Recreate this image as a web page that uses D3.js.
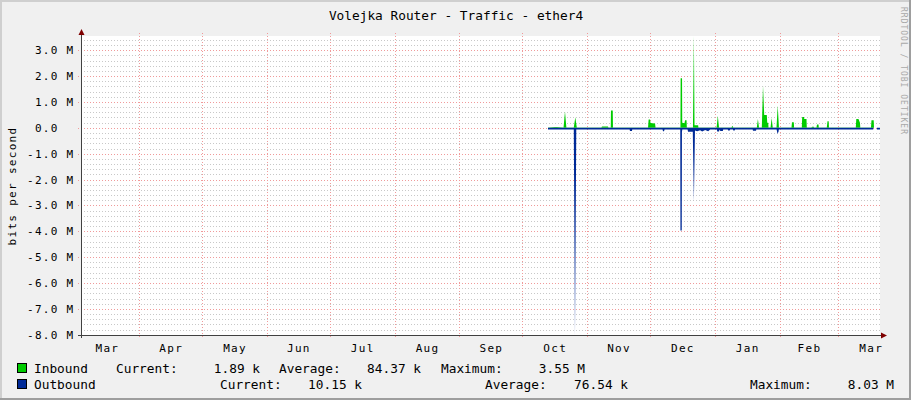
<!DOCTYPE html>
<html>
<head>
<meta charset="utf-8">
<script src="https://cdn.jsdelivr.net/npm/d3@7"></script>
<style>
body { margin:0; background:#f0f0f0; }
svg text { font-family:"DejaVu Sans Mono", monospace; fill:#000; }
</style>
</head>
<body>
<div id="chart"></div>
<script>
// ---- data ----
var title = "Volejka Router - Traffic - ether4";
var yTitle = "bits per second";
var yTicks = [-8e6, -7e6, -6e6, -5e6, -4e6, -3e6, -2e6, -1e6, 0, 1e6, 2e6, 3e6];
var timeDomain = ["2021-03-04 03:20", "2022-03-20 22:20"];
var valueDomain = [-8.01e6, 3.55e6];

var inbound = [
	["2021-10-13 07:00", 10e3], ["2021-10-16 15:00", 30e3], ["2021-10-17 14:00", 30e3],
	["2021-10-20 17:30", 10e3], ["2021-10-21 09:40", 630e3], ["2021-10-22 01:40", 10e3],
	["2021-10-25 14:40", 10e3], ["2021-10-26 08:00", 410e3], ["2021-10-27 01:00", 10e3],
	["2021-11-07 20:00", 10e3], ["2021-11-08 02:00", 50e3], ["2021-11-10 22:30", 50e3], ["2021-11-11 04:00", 10e3],
	["2021-11-12 06:40", 10e3], ["2021-11-12 09:00", 670e3], ["2021-11-13 05:30", 670e3], ["2021-11-13 08:00", 10e3],
	["2021-11-30 02:10", 10e3], ["2021-11-30 09:00", 320e3], ["2021-12-01 01:10", 320e3], ["2021-12-01 07:00", 190e3],
	["2021-12-03 10:30", 170e3], ["2021-12-03 16:20", 10e3],
	["2021-12-15 13:40", 10e3], ["2021-12-15 16:00", 1.92e6], ["2021-12-16 08:10", 1.92e6], ["2021-12-16 10:20", 200e3],
	["2021-12-17 12:40", 180e3], ["2021-12-17 18:30", 290e3], ["2021-12-18 11:40", 290e3], ["2021-12-18 15:10", 10e3],
	["2021-12-21 13:10", 10e3], ["2021-12-21 23:50", 3.55e6], ["2021-12-22 07:30", 100e3],
	["2021-12-24 00:40", 100e3], ["2021-12-24 04:00", 10e3],
	["2022-01-01 20:40", 10e3], ["2022-01-02 10:20", 470e3], ["2022-01-03 00:00", 10e3],
	["2022-01-08 23:30", 10e3], ["2022-01-09 08:40", 80e3], ["2022-01-09 20:00", 10e3],
	["2022-01-21 01:40", 10e3], ["2022-01-21 14:10", 340e3], ["2022-01-22 02:50", 10e3],
	["2022-01-23 11:00", 10e3], ["2022-01-24 00:40", 1.63e6], ["2022-01-24 14:30", 500e3],
	["2022-01-25 20:20", 500e3], ["2022-01-26 01:00", 200e3], ["2022-01-26 12:30", 200e3], ["2022-01-26 15:50", 10e3],
	["2022-01-27 15:10", 10e3], ["2022-01-28 03:50", 380e3], ["2022-01-28 16:20", 10e3],
	["2022-01-30 11:30", 10e3], ["2022-01-31 01:30", 860e3], ["2022-01-31 15:10", 10e3],
	["2022-02-06 15:20", 10e3], ["2022-02-06 21:00", 220e3], ["2022-02-07 17:40", 220e3], ["2022-02-07 21:10", 10e3],
	["2022-02-11 13:30", 10e3], ["2022-02-11 18:00", 420e3], ["2022-02-12 14:40", 420e3], ["2022-02-12 18:00", 340e3],
	["2022-02-13 19:20", 340e3], ["2022-02-13 22:50", 10e3],
	["2022-02-16 04:40", 10e3], ["2022-02-16 10:20", 40e3], ["2022-02-17 07:10", 40e3], ["2022-02-17 10:40", 10e3],
	["2022-02-18 14:00", 10e3], ["2022-02-18 19:40", 130e3], ["2022-02-19 13:00", 130e3], ["2022-02-19 16:20", 10e3],
	["2022-02-23 12:10", 10e3], ["2022-02-23 20:10", 250e3], ["2022-02-24 09:50", 250e3], ["2022-02-24 13:10", 10e3],
	["2022-03-09 08:40", 10e3], ["2022-03-09 14:30", 340e3], ["2022-03-10 15:40", 340e3], ["2022-03-11 08:50", 200e3],
	["2022-03-11 12:20", 10e3],
	["2022-03-16 15:00", 10e3], ["2022-03-16 20:40", 290e3], ["2022-03-17 22:00", 290e3], ["2022-03-18 01:30", 10e3],
	["2022-03-18 02:00", NaN],
	["2022-03-19 10:30", 1.89e3], ["2022-03-20 22:00", 1.89e3]
];

var outbound = [
	["2021-10-13 07:00", -65e3],
	["2021-10-25 14:40", -65e3], ["2021-10-26 04:20", -8.03e6], ["2021-10-26 19:10", -65e3],
	["2021-11-21 07:30", -65e3], ["2021-11-21 10:50", -120e3], ["2021-11-22 09:50", -120e3], ["2021-11-22 13:00", -65e3],
	["2021-12-07 00:30", -65e3], ["2021-12-07 06:10", -130e3], ["2021-12-07 17:40", -130e3], ["2021-12-07 23:30", -65e3],
	["2021-12-15 11:30", -65e3], ["2021-12-15 13:40", -3.97e6], ["2021-12-16 04:40", -3.97e6], ["2021-12-16 07:00", -150e3],
	["2021-12-16 11:30", -65e3], ["2021-12-18 23:10", -65e3], ["2021-12-19 05:00", -150e3], ["2021-12-21 05:00", -150e3],
	["2021-12-21 11:20", -150e3], ["2021-12-21 23:50", -2.85e6], ["2021-12-22 12:30", -100e3],
	["2021-12-23 13:30", -130e3], ["2021-12-24 23:50", -90e3], ["2021-12-25 22:50", -140e3],
	["2021-12-27 09:10", -80e3], ["2021-12-28 19:40", -130e3], ["2021-12-29 18:30", -65e3],
	["2022-01-01 23:00", -65e3], ["2022-01-02 03:40", -140e3], ["2022-01-03 00:10", -140e3], ["2022-01-03 06:00", -65e3],
	["2022-01-03 15:10", -120e3], ["2022-01-04 19:40", -120e3], ["2022-01-05 00:10", -65e3],
	["2022-01-07 05:00", -65e3], ["2022-01-07 09:00", -100e3], ["2022-01-08 03:00", -100e3], ["2022-01-08 07:00", -65e3],
	["2022-01-09 16:00", -65e3], ["2022-01-09 20:00", -100e3], ["2022-01-10 12:00", -100e3], ["2022-01-10 16:00", -65e3],
	["2022-01-19 02:00", -65e3], ["2022-01-19 06:00", -110e3], ["2022-01-20 16:30", -110e3], ["2022-01-20 20:00", -65e3],
	["2022-01-30 12:40", -65e3], ["2022-01-30 23:00", -230e3], ["2022-01-31 10:30", -150e3], ["2022-01-31 14:00", -65e3],
	["2022-03-17 17:20", -65e3],
	["2022-03-18 02:00", NaN],
	["2022-03-19 10:30", -65e3], ["2022-03-20 22:00", -65e3]
];

var legendRows = [
	{ name: "Inbound", color: "#00cc00", current: "1.89 k", average: "84.37 k", maximum: "3.55 M" },
	{ name: "Outbound", color: "#002a97", current: "10.15 k", average: "76.54 k", maximum: "8.03 M" }
];

// ---- layout ----
var W = 911, H = 400;
var pLeft = 81, pRight = 880, pTop = 36, pBottom = 335;
var parse = d3.timeParse("%Y-%m-%d %H:%M");

var x = d3.scaleTime().domain(timeDomain.map(parse)).range([pLeft, pRight]);
var y = d3.scaleLinear().domain(valueDomain).range([pBottom, pTop]);

var svg = d3.select("#chart").append("svg").attr("width", W).attr("height", H);

// frame
svg.append("rect").attr("width", W).attr("height", H).attr("fill", "#f0f0f0");
svg.append("path").attr("d", "M0,0H" + W + "V2H2V" + H + "H0Z").attr("fill", "#cfcfcf");
svg.append("path").attr("d", "M" + W + "," + H + "H0V" + (H - 2) + "H" + (W - 2) + "V0H" + W + "Z").attr("fill", "#9e9e9e");

svg.append("rect").attr("x", pLeft).attr("y", pTop).attr("width", pRight - pLeft).attr("height", pBottom - pTop).attr("fill", "#fff");

// grid
var grid = svg.append("g").attr("shape-rendering", "crispEdges");
var minor = d3.range(-8e6, valueDomain[1], 2e5).filter(function(v){ return Math.round(v / 2e5) % 5 != 0; });
grid.selectAll("line.minor").data(minor).enter().append("line")
	.attr("x1", pLeft).attr("x2", pRight)
	.attr("y1", function(d){ return Math.round(y(d)) + 0.5; })
	.attr("y2", function(d){ return Math.round(y(d)) + 0.5; })
	.attr("stroke", "#c8c8c8").attr("stroke-dasharray", "1,2");

grid.selectAll("line.major").data(yTicks).enter().append("line")
	.attr("x1", pLeft - 3).attr("x2", pRight)
	.attr("y1", function(d){ return Math.round(y(d)) + 0.5; })
	.attr("y2", function(d){ return Math.round(y(d)) + 0.5; })
	.attr("stroke", "#f09a9a").attr("stroke-dasharray", "1,2");

var months = d3.timeMonth.range(d3.timeMonth.ceil(x.domain()[0]), x.domain()[1]);
grid.selectAll("line.month").data(months).enter().append("line")
	.attr("y1", pTop - 3).attr("y2", pBottom + 3)
	.attr("x1", function(d){ return Math.round(x(d)) + 0.5; })
	.attr("x2", function(d){ return Math.round(x(d)) + 0.5; })
	.attr("stroke", "#f09a9a").attr("stroke-dasharray", "1,2");

// series
function rows(arr){ return arr.map(function(d){ return { t: parse(d[0]), v: d[1] }; }); }

var area = d3.area()
	.defined(function(d){ return !isNaN(d.v); })
	.x(function(d){ return x(d.t); })
	.y0(y(0))
	.y1(function(d){ return y(d.v); });

svg.append("path").datum(rows(inbound)).attr("d", area).attr("fill", legendRows[0].color);
svg.append("path").datum(rows(outbound)).attr("d", area).attr("fill", legendRows[1].color);

// axes
var axisColor = "#404040", arrowColor = "#7f0000";
svg.append("line").attr("x1", pLeft + 0.5).attr("x2", pLeft + 0.5).attr("y1", pBottom + 3).attr("y2", pTop - 3)
	.attr("stroke", axisColor);
svg.append("line").attr("x1", pLeft - 3).attr("x2", pRight + 3).attr("y1", pBottom + 0.5).attr("y2", pBottom + 0.5)
	.attr("stroke", axisColor);
svg.append("path").attr("d", "M" + (pLeft - 2.5) + "," + (pTop - 1) + "L" + (pLeft + 0.5) + "," + (pTop - 7) + "L" + (pLeft + 3.5) + "," + (pTop - 1) + "Z")
	.attr("fill", arrowColor);
svg.append("path").attr("d", "M" + (pRight + 1) + "," + (pBottom - 2.5) + "L" + (pRight + 7) + "," + (pBottom + 0.5) + "L" + (pRight + 1) + "," + (pBottom + 3.5) + "Z")
	.attr("fill", arrowColor);

// y labels
svg.append("g").selectAll("text").data(yTicks).enter().append("text")
	.attr("x", 74.5).attr("y", function(d){ return y(d) + 4; })
	.attr("text-anchor", "end")
	.style("font-size", "11px").style("letter-spacing", "1.3px")
	.text(function(d){ return d == 0 ? "0.0\u00a0\u00a0" : (d / 1e6).toFixed(1) + " M"; });

// month labels, centred in each month
var fmt = d3.timeFormat("%b");
var labelMonths = d3.timeMonth.range(d3.timeMonth.floor(x.domain()[0]), x.domain()[1]);
svg.append("g").selectAll("text").data(labelMonths).enter().append("text")
	.attr("x", function(d){ return (x(d) + x(d3.timeMonth.offset(d, 1))) / 2 + 0.5; })
	.attr("y", 352)
	.attr("text-anchor", "middle")
	.style("font-size", "11px").style("letter-spacing", "1.3px")
	.text(function(d){ return fmt(d); });

// titles
svg.append("text").attr("x", 456).attr("y", 20).attr("text-anchor", "middle")
	.style("font-size", "12.8px").text(title);
svg.append("text").attr("transform", "translate(16,186) rotate(-90)").attr("text-anchor", "middle")
	.style("font-size", "11px").style("letter-spacing", "1.3px").text(yTitle);
svg.append("text").attr("transform", "translate(901,7) rotate(90)")
	.style("font-size", "8px").style("letter-spacing", "1px").style("fill", "#a8a8a8")
	.text("RRDTOOL / TOBI OETIKER");

// legend
var legendCols = [
	{ name: 34, cur: 116, curV: 260, avg: 279, avgV: 421, max: 441, maxV: 585 },
	{ name: 34, cur: 220, curV: 362, avg: 485, avgV: 628, max: 750, maxV: 894 }
];
legendRows.forEach(function(r, i){
	var c = legendCols[i], base = 373 + i * 16;
	var g = svg.append("g").style("font-size", "12.8px");
	g.append("rect").attr("x", 17.5).attr("y", base - 9.5).attr("width", 9).attr("height", 9)
		.attr("fill", r.color).attr("stroke", "#000");
	g.append("text").attr("x", c.name).attr("y", base).text(r.name);
	g.append("text").attr("x", c.cur).attr("y", base).text("Current:");
	g.append("text").attr("x", c.curV).attr("y", base).attr("text-anchor", "end").text(r.current);
	g.append("text").attr("x", c.avg).attr("y", base).text("Average:");
	g.append("text").attr("x", c.avgV).attr("y", base).attr("text-anchor", "end").text(r.average);
	g.append("text").attr("x", c.max).attr("y", base).text("Maximum:");
	g.append("text").attr("x", c.maxV).attr("y", base).attr("text-anchor", "end").text(r.maximum);
});
</script>
</body>
</html>
